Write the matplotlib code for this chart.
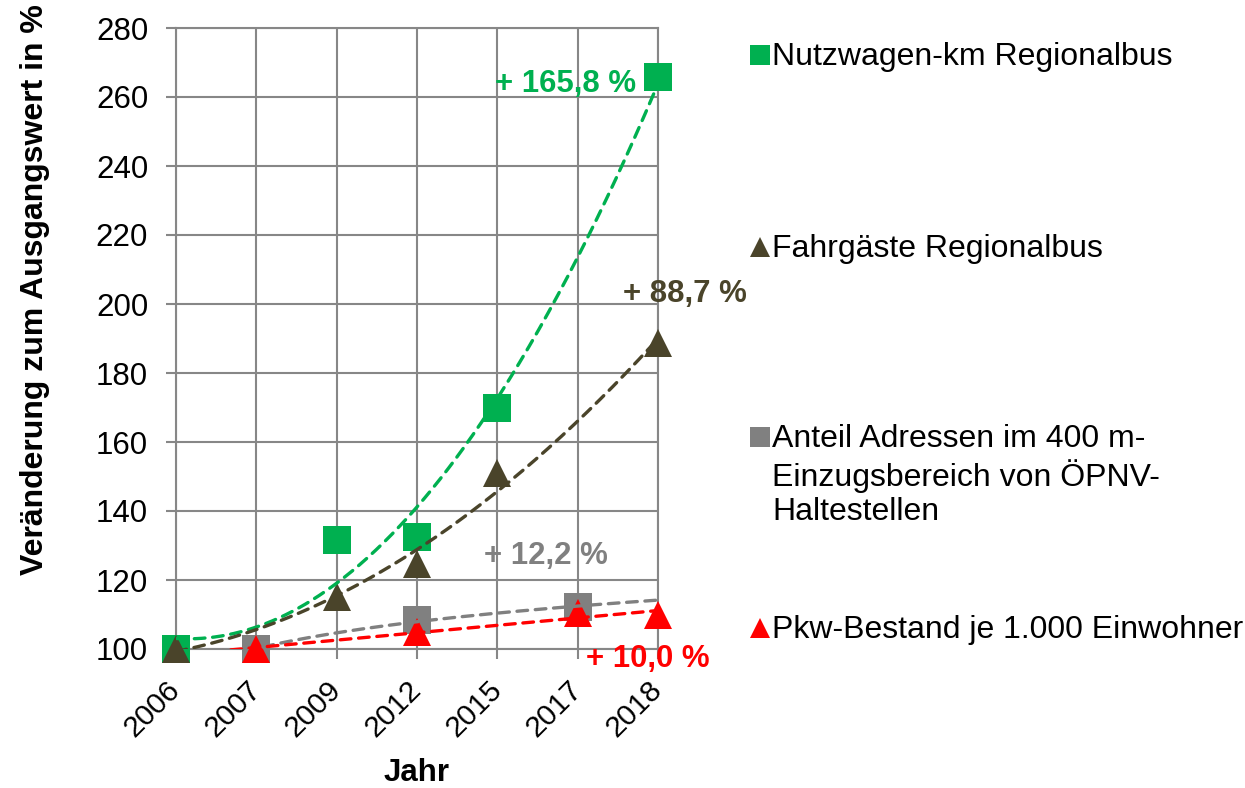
import numpy as np
import matplotlib
matplotlib.use("Agg")
import matplotlib.pyplot as plt
from matplotlib.lines import Line2D

plt.rcParams['font.family'] = ['Liberation Sans', 'DejaVu Sans']

# ---- data ----
jahre = ["2006", "2007", "2009", "2012", "2015", "2017", "2018"]
nan = np.nan
nutzwagen_km = [100, nan, 131.5, 132.5, 170.0, nan, 265.8]
fahrgaeste = [100, nan, 115.0, 124.5, 151.0, nan, 188.7]
anteil_adressen = [nan, 100, nan, 108.3, nan, 112.2, nan]
pkw_bestand = [nan, 100, nan, 105.0, nan, 110.3, 110.0]

labels = ["Nutzwagen-km Regionalbus",
          "Fahrgäste Regionalbus",
          "Anteil Adressen im 400 m-\nEinzugsbereich von ÖPNV-\nHaltestellen",
          "Pkw-Bestand je 1.000 Einwohner"]
colors = ["#00B050", "#4A442A", "#808080", "#FF0000"]
markers = ["s", "^", "s", "^"]
trend_kind = ["poly2", "poly2", "log", "linear"]
series = [nutzwagen_km, fahrgaeste, anteil_adressen, pkw_bestand]

W, H = 1245, 788
fig = plt.figure(figsize=(W / 100, H / 100), dpi=100)
ax = fig.add_axes([176 / W, 1 - 649 / H, (658 - 176) / W, (649 - 28) / H])

x = np.arange(len(jahre))
xd = np.linspace(0, len(jahre) - 1, 300)

for vals, col, mk in zip(series, colors, markers):
    v = np.array(vals, dtype=float)
    m = ~np.isnan(v)
    ax.plot(x[m], v[m], linestyle='none', marker=mk, markersize=20,
            color=col, markeredgewidth=0, clip_on=False, zorder=3)

for vals, col, kind in zip(series, colors, trend_kind):
    v = np.array(vals, dtype=float)
    m = ~np.isnan(v)
    if kind == "poly2":
        yd = np.polyval(np.polyfit(x[m], v[m], 2), xd)
    elif kind == "linear":
        yd = np.polyval(np.polyfit(x[m], v[m], 1), xd)
    else:
        c = np.polyfit(np.log(x[m] + 1), v[m], 1)
        yd = np.polyval(c, np.log(xd + 1))
    ax.plot(xd, yd, color=col, lw=2.4, linestyle=(0, (3.2, 2.3)),
            dash_capstyle='round', zorder=4)

grid_col = "#878787"
ax.set_xlim(0, len(jahre) - 1)
ax.set_ylim(100, 280)
ax.set_yticks(np.arange(100, 281, 20))
ax.set_xticks(x)
ax.set_xticklabels(jahre, rotation=45, ha='right', va='center',
                   rotation_mode='anchor')
ax.grid(True, color=grid_col, lw=1.5)
ax.set_axisbelow(True)
for s in ax.spines.values():
    s.set_color(grid_col)
    s.set_linewidth(1.5)
ax.tick_params(axis='both', color=grid_col, width=1.5, length=7,
               labelcolor='black')
ax.tick_params(axis='y', pad=13, labelsize=22.5)
ax.tick_params(axis='x', pad=19, labelsize=21.5)

# annotations of total change
def pct(v):
    return ("+ %.1f %%" % (v - 100)).replace('.', ',')

afs = 22.4
ax.text(5.73, nutzwagen_km[6] - 2, pct(nutzwagen_km[6]), color=colors[0],
        fontsize=afs, fontweight='bold', ha='right', va='center')
ax.text(5.56, fahrgaeste[6] + 14.3, pct(fahrgaeste[6]), color=colors[1],
        fontsize=afs, fontweight='bold', ha='left', va='center')
ax.text(3.83, anteil_adressen[5] + 14.8, pct(anteil_adressen[5]), color=colors[2],
        fontsize=afs, fontweight='bold', ha='left', va='center')
ax.text(5.10, pkw_bestand[6] - 12.9, pct(pkw_bestand[6]), color=colors[3],
        fontsize=afs, fontweight='bold', ha='left', va='center', clip_on=False)

fig.text(35 / W, 1 - 290 / H, "Veränderung zum Ausgangswert in %", rotation=90,
         ha='center', va='center', fontsize=23, fontweight='bold')
fig.text(417 / W, 1 - 773 / H, "Jahr", ha='center', va='center',
         fontsize=22.5, fontweight='bold')

# legend (manually placed entries)
leg_y = [55, 247, 437, 628]
for lab, col, mk, yy in zip(labels, colors, markers, leg_y):
    fig.add_artist(Line2D([760 / W], [1 - yy / H], transform=fig.transFigure,
                          marker=mk, markersize=15, color=col,
                          markeredgewidth=0, linestyle='none'))
    fig.text(772 / W, 1 - (yy - 13) / H, lab, ha='left', va='top',
             fontsize=23, linespacing=1.18)

fig.savefig("out.png", dpi=100)
